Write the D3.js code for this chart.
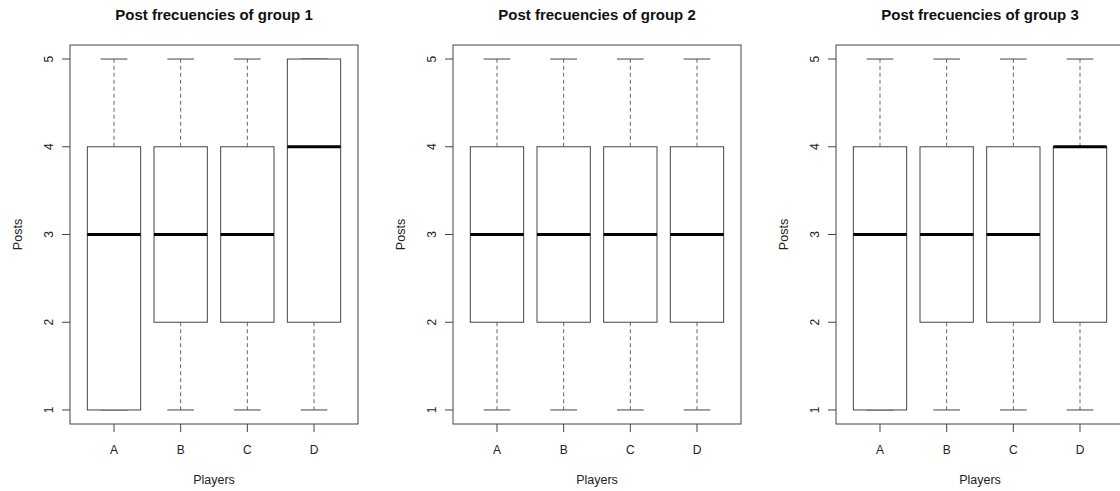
<!DOCTYPE html>
<html>
<head>
<meta charset="utf-8">
<script src="https://cdnjs.cloudflare.com/ajax/libs/d3/7.8.5/d3.min.js"></script>
<style>
body { margin: 0; background: #fff; }
svg { display: block; font-family: "Liberation Sans", Arial, sans-serif; }
</style>
</head>
<body>
<script>
var width = 1120;
var height = 491;

var groups = ["Post frecuencies of group 1", "Post frecuencies of group 2", "Post frecuencies of group 3"];
var players = ["A", "B", "C", "D"];
var yTicks = [1, 2, 3, 4, 5];

// [min, q1, median, q3, max] per player
var group1 = [[1, 1, 3, 4, 5], [1, 2, 3, 4, 5], [1, 2, 3, 4, 5], [1, 2, 4, 5, 5]];
var group2 = [[1, 2, 3, 4, 5], [1, 2, 3, 4, 5], [1, 2, 3, 4, 5], [1, 2, 3, 4, 5]];
var group3 = [[1, 1, 3, 4, 5], [1, 2, 3, 4, 5], [1, 2, 3, 4, 5], [1, 2, 4, 4, 5]];
var stats = [group1, group2, group3];

var panelLeft = [70, 453, 836];
var plotW = 288, plotTop = 45, plotBottom = 424;

var svg = d3.select("body")
	.append("svg")
	.attr("width", width)
	.attr("height", height);

function drawPanel(i) {
	var x0 = panelLeft[i];
	var g = svg.append("g");

	// R style: 4% padding on both axes
	var x = d3.scaleLinear().domain([0.5 - 0.16, 4.5 + 0.16]).range([x0, x0 + plotW]);
	var y = d3.scaleLinear().domain([1 - 0.16, 5 + 0.16]).range([plotBottom, plotTop]);
	var unit = x(2) - x(1);

	g.append("text")
		.attr("x", x0 + plotW / 2)
		.attr("y", 20)
		.attr("text-anchor", "middle")
		.style("font-weight", "bold")
		.style("font-size", "15px")
		.style("fill", "#111")
		.text(groups[i]);

	// y axis ticks
	yTicks.forEach(function(t) {
		g.append("line")
			.attr("x1", x0).attr("x2", x0 - 8)
			.attr("y1", y(t)).attr("y2", y(t))
			.attr("stroke", "#444");
		g.append("text")
			.attr("transform", "translate(" + (x0 - 17) + "," + y(t) + ") rotate(-90)")
			.attr("text-anchor", "middle")
			.style("font-size", "12px")
			.style("fill", "#222")
			.text(t);
	});

	// x axis ticks
	players.forEach(function(p, j) {
		g.append("line")
			.attr("x1", x(j + 1)).attr("x2", x(j + 1))
			.attr("y1", plotBottom).attr("y2", plotBottom + 8)
			.attr("stroke", "#444");
		g.append("text")
			.attr("x", x(j + 1))
			.attr("y", 454)
			.attr("text-anchor", "middle")
			.style("font-size", "12px")
			.style("fill", "#222")
			.text(p);
	});

	g.append("text")
		.attr("x", x0 + plotW / 2)
		.attr("y", 484)
		.attr("text-anchor", "middle")
		.style("font-size", "12.5px")
		.style("fill", "#222")
		.text("Players");

	g.append("text")
		.attr("transform", "translate(" + (x0 - 48) + "," + (plotTop + plotBottom) / 2 + ") rotate(-90)")
		.attr("text-anchor", "middle")
		.style("font-size", "12.5px")
		.style("fill", "#222")
		.text("Posts");

	// boxes
	var b = g.selectAll("g.box")
		.data(stats[i])
		.enter()
		.append("g")
		.attr("class", "box");

	b.each(function(d, j) {
		var s = d3.select(this);
		var cx = x(j + 1);
		var bw = unit * 0.8 / 2;
		var cw = unit * 0.4 / 2;
		// whiskers
		if (d[0] < d[1]) {
			s.append("line").attr("x1", cx).attr("x2", cx).attr("y1", y(d[1])).attr("y2", y(d[0]))
				.attr("stroke", "#666").attr("stroke-dasharray", "4,3");
		}
		if (d[4] > d[3]) {
			s.append("line").attr("x1", cx).attr("x2", cx).attr("y1", y(d[3])).attr("y2", y(d[4]))
				.attr("stroke", "#666").attr("stroke-dasharray", "4,3");
		}
		s.append("line").attr("x1", cx - cw).attr("x2", cx + cw).attr("y1", y(d[0])).attr("y2", y(d[0]))
			.attr("stroke", "#444");
		s.append("line").attr("x1", cx - cw).attr("x2", cx + cw).attr("y1", y(d[4])).attr("y2", y(d[4]))
			.attr("stroke", "#444");
		s.append("rect")
			.attr("x", cx - bw).attr("width", bw * 2)
			.attr("y", y(d[3])).attr("height", y(d[1]) - y(d[3]))
			.attr("fill", "#fff").attr("stroke", "#444");
		s.append("line").attr("x1", cx - bw).attr("x2", cx + bw).attr("y1", y(d[2])).attr("y2", y(d[2]))
			.attr("stroke", "#000").attr("stroke-width", 3);
	});

	g.append("rect")
		.attr("x", x0).attr("y", plotTop)
		.attr("width", plotW).attr("height", plotBottom - plotTop)
		.attr("fill", "none").attr("stroke", "#444");
}

groups.forEach(function(d, i) { drawPanel(i); });
</script>
</body>
</html>
